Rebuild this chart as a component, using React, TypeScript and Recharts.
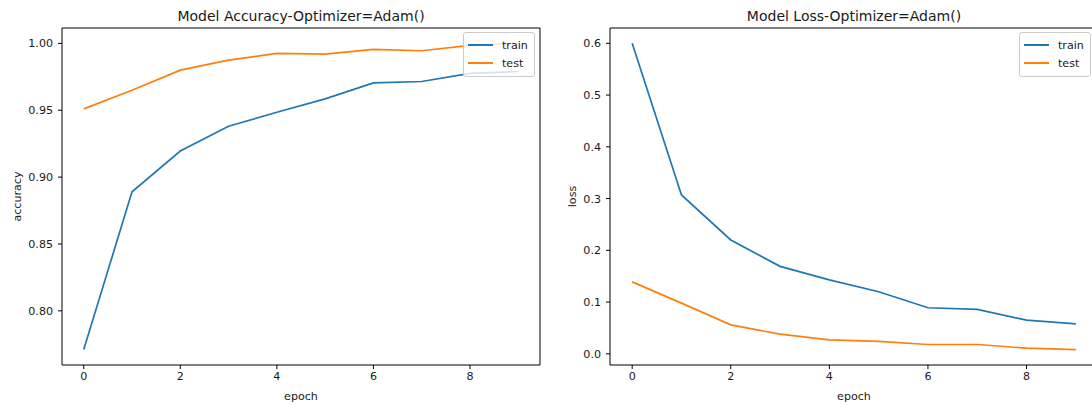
import React from "react";
import {
  LineChart,
  Line,
  XAxis,
  YAxis,
  Legend,
  ReferenceLine,
} from "recharts";

const epochs = [0, 1, 2, 3, 4, 5, 6, 7, 8, 9];
const accTrain = [0.771, 0.889, 0.9195, 0.938, 0.9485, 0.9585, 0.9705, 0.9715, 0.9775, 0.979];
const accTest = [0.951, 0.965, 0.98, 0.9875, 0.9925, 0.992, 0.9955, 0.9945, 0.9985, 1.0];
const lossTrain = [0.6, 0.307, 0.22, 0.169, 0.143, 0.12, 0.089, 0.086, 0.065, 0.058];
const lossTest = [0.139, 0.098, 0.056, 0.038, 0.027, 0.024, 0.018, 0.018, 0.011, 0.008];
const xTicks = [0, 2, 4, 6, 8];
const accTicks = [0.8, 0.85, 0.9, 0.95, 1.0];
const lossTicks = [0, 0.1, 0.2, 0.3, 0.4, 0.5, 0.6];
const xDomain: [number, number] = [-0.45, 9.45];

const FONT = "'DejaVu Sans', sans-serif";
const TEXT = "#1a1a1a";
const BLUE = "#1f77b4";
const ORANGE = "#ff7f0e";

const series = [
  { key: "train", color: BLUE },
  { key: "test", color: ORANGE },
];

const tickStyle = { fontSize: 11.1, fill: TEXT, fontFamily: FONT };

function LegendBox() {
  return (
    <div
      style={{
        border: "1px solid #cccccc",
        borderRadius: 3,
        background: "rgba(255,255,255,0.8)",
        padding: "3px 4px 4px 4px",
        fontFamily: FONT,
        fontSize: 11.1,
        color: TEXT,
      }}
    >
      {series.map((s) => (
        <div key={s.key} style={{ display: "flex", alignItems: "center", height: 18 }}>
          <div style={{ width: 25, height: 2, background: s.color, marginRight: 9 }} />
          <span>{s.key}</span>
        </div>
      ))}
    </div>
  );
}

interface PanelProps {
  title: string;
  yLabel: string;
  train: number[];
  test: number[];
  yDomain: [number, number];
  yTicks: number[];
  digits: number;
  yAxisWidth: number;
  rightMargin: number;
  yLabelX: number;
  legendLeft: number;
}

function Panel(p: PanelProps) {
  const data = epochs.map((e, i) => ({ epoch: e, train: p.train[i], test: p.test[i] }));
  const W = 560;
  const plotLeft = p.yAxisWidth;
  const plotWidth = W - p.yAxisWidth - p.rightMargin;
  return (
    <div style={{ position: "relative", width: W, height: 405 }}>
      <div
        style={{
          position: "absolute",
          top: 7,
          left: plotLeft,
          width: plotWidth,
          textAlign: "center",
          fontFamily: FONT,
          fontSize: 14,
          lineHeight: "18px",
          color: TEXT,
        }}
      >
        {p.title}
      </div>
      <LineChart
        width={W}
        height={405}
        data={data}
        margin={{ top: 28, right: p.rightMargin, bottom: 0, left: 0 }}
      >
        <XAxis
          dataKey="epoch"
          type="number"
          domain={xDomain}
          ticks={xTicks}
          allowDataOverflow
          height={40}
          axisLine={{ stroke: "#000", strokeWidth: 1 }}
          tickLine={{ stroke: "#000" }}
          tickSize={4}
          tickMargin={3}
          tick={tickStyle}
          label={{ value: "epoch", position: "insideBottom", offset: 5, style: { ...tickStyle } }}
        />
        <YAxis
          type="number"
          domain={p.yDomain}
          ticks={p.yTicks}
          allowDataOverflow
          width={p.yAxisWidth}
          axisLine={{ stroke: "#000", strokeWidth: 1 }}
          tickLine={{ stroke: "#000" }}
          tickSize={4}
          tickMargin={5}
          tick={tickStyle}
          tickFormatter={(v: number) => v.toFixed(p.digits)}
          label={(lp: any) => {
            const vb = lp.viewBox || {};
            const cy = (vb.y || 0) + (vb.height || 0) / 2;
            return (
              <text
                x={p.yLabelX}
                y={cy}
                transform={`rotate(-90, ${p.yLabelX}, ${cy})`}
                textAnchor="middle"
                dominantBaseline="central"
                style={tickStyle}
              >
                {p.yLabel}
              </text>
            );
          }}
        />
        <ReferenceLine y={p.yDomain[1]} stroke="#000" strokeWidth={1} />
        <ReferenceLine x={xDomain[1]} stroke="#000" strokeWidth={1} />
        <Legend
          layout="vertical"
          align="center"
          verticalAlign="middle"
          content={<LegendBox />}
          wrapperStyle={{ top: 32, left: p.legendLeft, width: 72, bottom: "auto" }}
        />
        {series.map((s) => (
          <Line
            key={s.key}
            dataKey={s.key}
            name={s.key}
            stroke={s.color}
            strokeWidth={1.7}
            dot={false}
            activeDot={false}
            type="linear"
            isAnimationActive={false}
          />
        ))}
      </LineChart>
    </div>
  );
}

export default function App() {
  return (
    <div
      style={{
        position: "absolute",
        left: 0,
        top: 0,
        width: 1092,
        height: 405,
        overflow: "hidden",
        background: "#fff",
      }}
    >
      <div style={{ position: "absolute", left: 0, top: 0 }}>
        <Panel
          title="Model Accuracy-Optimizer=Adam()"
          yLabel="accuracy"
          train={accTrain}
          test={accTest}
          yDomain={[0.7595, 1.0115]}
          yTicks={accTicks}
          digits={2}
          yAxisWidth={62}
          rightMargin={20}
          yLabelX={17}
          legendLeft={463}
        />
      </div>
      <div style={{ position: "absolute", left: 550, top: 0 }}>
        <Panel
          title="Model Loss-Optimizer=Adam()"
          yLabel="loss"
          train={lossTrain}
          test={lossTest}
          yDomain={[-0.0216, 0.6296]}
          yTicks={lossTicks}
          digits={1}
          yAxisWidth={60}
          rightMargin={12}
          yLabelX={22}
          legendLeft={469}
        />
      </div>
    </div>
  );
}
